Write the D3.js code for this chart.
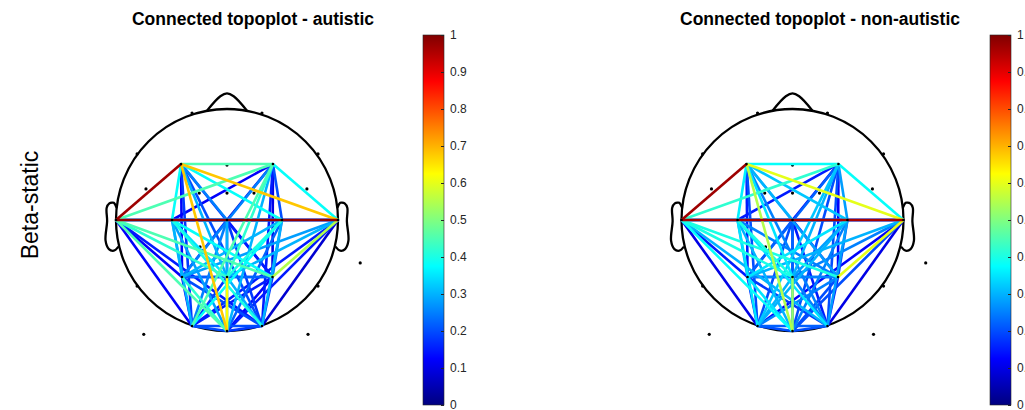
<!DOCTYPE html>
<html>
<head>
<meta charset="utf-8">
<script src="https://cdn.jsdelivr.net/npm/d3@7"></script>
<style>
  body { margin: 0; background: #fff; }
  svg { display: block; font-family: "Liberation Sans", Arial, sans-serif; }
</style>
</head>
<body>
<div id="chart"></div>
<script>
// connected electrodes (head radius = 1, y down = posterior)
var channels = ["F3", "F4", "T7", "C3", "Cz", "C4", "T8", "P3", "Pz", "P4", "O1", "Oz", "O2"];
var chanX = [-0.414, 0.414, -1.0, -0.495, 0, 0.495, 1.0, -0.405, 0, 0.41, -0.315, 0, 0.315];
var chanY = [-0.505, -0.505, 0, 0, 0, 0, 0, 0.514, 0.514, 0.514, 0.955, 1.0, 0.955];

// other electrodes, only drawn as dots
var otherX = [-0.315, 0.315, 0, -0.81, 0.82, -0.73, -0.25, 0, 0.243, 0.72, 1.2, -0.243, -0.81, 0.82, -0.75, 0.73];
var otherY = [-0.964, -0.964, -0.495, -0.595, -0.595, -0.28, -0.243, -0.243, -0.243, -0.28, 0.387, 0.243, 0.595, 0.595, 1.03, 1.03];

var edgeFrom = [0,0,0,0,0,0,0,0,0,0,0,0, 1,1,1,1,1,1,1,1,1,1,1, 2,2,2,2,2,2,2,2,2,2, 3,3,3,3,3,3,3,3,3, 4,4,4,4,4,4,4,4, 5,5,5,5,5,5,5, 6,6,6,6,6,6, 7,7,7,7,7, 8,8,8,8, 9,9,9, 10,10, 11];
var edgeTo   = [1,2,3,4,5,6,7,8,9,10,11,12, 2,3,4,5,6,7,8,9,10,11,12, 3,4,5,6,7,8,9,10,11,12, 4,5,6,7,8,9,10,11,12, 5,6,7,8,9,10,11,12, 6,7,8,9,10,11,12, 7,8,9,10,11,12, 8,9,10,11,12, 9,10,11,12, 10,11,12, 11,12, 12];

var autistic = [0.45,0.97,0.38,0.25,0.38,0.68,0.12,0.30,0.15,0.18,0.68,0.20,
  0.45,0.12,0.10,0.20,0.38,0.25,0.42,0.10,0.45,0.30,0.15,
  0.20,0.25,0.30,0.98,0.12,0.42,0.45,0.12,0.45,0.15,
  0.20,0.20,0.20,0.30,0.35,0.38,0.30,0.28,0.40,
  0.20,0.20,0.15,0.20,0.12,0.25,0.30,0.18,
  0.20,0.30,0.40,0.25,0.38,0.22,0.30,
  0.28,0.30,0.55,0.15,0.15,0.08,
  0.15,0.22,0.12,0.42,0.20,
  0.20,0.18,0.62,0.30,
  0.15,0.12,0.18,
  0.20,0.20,
  0.18];

var nonAutistic = [0.38,0.97,0.36,0.30,0.32,0.60,0.15,0.35,0.28,0.20,0.55,0.25,
  0.42,0.15,0.12,0.28,0.38,0.22,0.30,0.12,0.32,0.20,0.20,
  0.20,0.25,0.30,0.96,0.15,0.40,0.40,0.10,0.38,0.30,
  0.20,0.20,0.20,0.30,0.40,0.25,0.35,0.30,0.35,
  0.20,0.20,0.20,0.18,0.15,0.20,0.22,0.15,
  0.20,0.35,0.28,0.20,0.30,0.25,0.28,
  0.30,0.25,0.60,0.12,0.20,0.10,
  0.12,0.25,0.15,0.35,0.18,
  0.20,0.30,0.52,0.25,
  0.25,0.20,0.15,
  0.20,0.22,
  0.20];

var colorTicks = [0, 0.1, 0.2, 0.3, 0.4, 0.5, 0.6, 0.7, 0.8, 0.9, 1];
var panelTitles = ["Connected topoplot - autistic", "Connected topoplot - non-autistic"];
var rowLabel = "Beta-static";

// EEGLAB head outline (rmax = 0.5)
var earX = [0.497, 0.510, 0.518, 0.5299, 0.5419, 0.54, 0.547, 0.532, 0.510, 0.489];
var earY = [0.0555, 0.0775, 0.0783, 0.0746, 0.0555, -0.0055, -0.0932, -0.1313, -0.1384, -0.1199];

var width = 1025, height = 410;

var svg = d3.select("#chart").append("svg")
    .attr("width", width)
    .attr("height", height);

function jet(t) {
  var c = function(v) { return Math.max(0, Math.min(1, v)); };
  var r = c(1.5 - Math.abs(4 * t - 3)),
      g = c(1.5 - Math.abs(4 * t - 2)),
      b = c(1.5 - Math.abs(4 * t - 1));
  return d3.rgb(r * 255, g * 255, b * 255).formatHex();
}
var color = d3.scaleSequential(jet).domain([0, 1]);

var grad = svg.append("defs").append("linearGradient")
    .attr("id", "jetgrad")
    .attr("x1", 0).attr("y1", 1).attr("x2", 0).attr("y2", 0);
grad.selectAll("stop")
    .data(d3.range(0, 1.0001, 0.025))
    .enter().append("stop")
    .attr("offset", function(d) { return d; })
    .attr("stop-color", function(d) { return color(d); });

var panels = [
  {cx: 227, cy: 220, r: 111, bar: 423, values: autistic, title: panelTitles[0], tx: 253},
  {cx: 792.5, cy: 220, r: 111, bar: 990, values: nonAutistic, title: panelTitles[1], tx: 820}
];

panels.forEach(function(p) {
  var g = svg.append("g");
  var x = d3.scaleLinear().domain([-1, 1]).range([p.cx - p.r, p.cx + p.r]);
  var y = d3.scaleLinear().domain([-1, 1]).range([p.cy - p.r, p.cy + p.r]);

  var line = d3.line()
      .x(function(d) { return x(d[0]); })
      .y(function(d) { return y(d[1]); });

  // head
  g.append("circle")
      .attr("cx", x(0)).attr("cy", y(0)).attr("r", x(1) - x(0))
      .attr("fill", "none").attr("stroke", "#000").attr("stroke-width", 2.3);

  var nose = [[-0.18, -0.985], [-0.06, -1.115], [0, -1.14], [0.06, -1.115], [0.18, -0.985]];
  g.append("path")
      .attr("d", line.curve(d3.curveCatmullRom)(nose))
      .attr("fill", "none").attr("stroke", "#000").attr("stroke-width", 2.3);

  [-1, 1].forEach(function(s) {
    var ear = earX.map(function(v, i) { return [s * v / 0.5, -earY[i] / 0.5]; });
    g.append("path")
        .attr("d", line.curve(d3.curveCatmullRom)(ear))
        .attr("fill", "none").attr("stroke", "#000").attr("stroke-width", 2.3)
        .attr("stroke-linejoin", "round");
  });

  // other electrode dots
  g.selectAll("circle.dot")
      .data(otherX.map(function(v, i) { return [v, otherY[i]]; }))
      .enter().append("circle")
      .attr("class", "dot")
      .attr("cx", function(d) { return x(d[0]); })
      .attr("cy", function(d) { return y(d[1]); })
      .attr("r", 1.6)
      .attr("fill", "#000");

  // connections, weakest first
  var edges = edgeFrom.map(function(a, i) {
    return {a: a, b: edgeTo[i], v: p.values[i]};
  }).sort(function(m, n) { return m.v - n.v; });

  g.selectAll("line.edge")
      .data(edges)
      .enter().append("line")
      .attr("class", "edge")
      .attr("x1", function(d) { return x(chanX[d.a]); })
      .attr("y1", function(d) { return y(chanY[d.a]); })
      .attr("x2", function(d) { return x(chanX[d.b]); })
      .attr("y2", function(d) { return y(chanY[d.b]); })
      .attr("stroke", function(d) { return color(d.v); })
      .attr("stroke-width", 2.6);

  g.selectAll("circle.node")
      .data(channels.map(function(c, i) { return [chanX[i], chanY[i]]; }))
      .enter().append("circle")
      .attr("class", "node")
      .attr("cx", function(d) { return x(d[0]); })
      .attr("cy", function(d) { return y(d[1]); })
      .attr("r", 1.3)
      .attr("fill", "#000");

  // title
  svg.append("text")
      .attr("x", p.tx).attr("y", 25)
      .attr("text-anchor", "middle")
      .attr("font-size", 17.5).attr("font-weight", "bold")
      .attr("fill", "#000")
      .text(p.title);

  // colorbar
  var cs = d3.scaleLinear().domain([0, 1]).range([405, 35]);
  svg.append("rect")
      .attr("x", p.bar).attr("y", cs(1))
      .attr("width", 21).attr("height", cs(0) - cs(1))
      .attr("fill", "url(#jetgrad)")
      .attr("stroke", "#262626").attr("stroke-width", 0.6);

  var axis = svg.append("g")
      .attr("transform", "translate(" + (p.bar + 21) + ",0)")
      .call(d3.axisRight(cs).tickValues(colorTicks).tickFormat(d3.format("~g"))
        .tickSizeInner(-3).tickSizeOuter(0).tickPadding(6));
  axis.select(".domain").remove();
  axis.selectAll("line").attr("stroke", "#262626");
  axis.selectAll("text").attr("fill", "#262626").attr("font-size", 12)
      .attr("font-family", "Liberation Sans, Arial, sans-serif");
});

svg.append("text")
    .attr("transform", "translate(38,205) rotate(-90)")
    .attr("text-anchor", "middle")
    .attr("font-size", 23)
    .attr("fill", "#000")
    .text(rowLabel);
</script>
</body>
</html>
